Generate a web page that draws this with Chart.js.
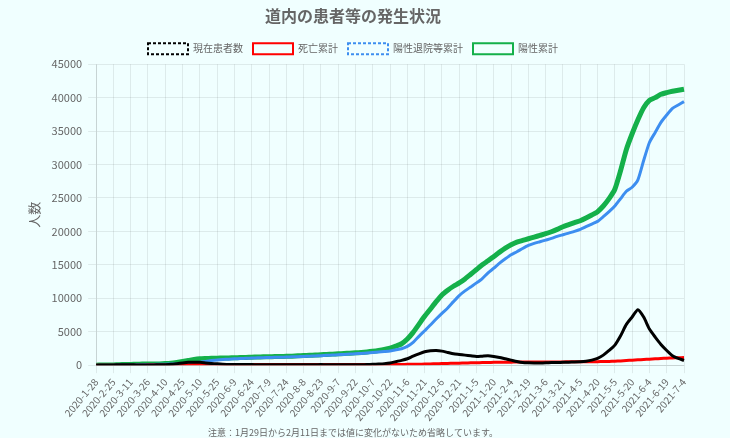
<!DOCTYPE html>
<html>
<head>
<meta charset="utf-8">
<script src="https://cdn.jsdelivr.net/npm/chart.js@4"></script>
<style>
  body { margin: 0; background: #f0ffff; }
  #wrap { width: 730px; height: 438px; }
</style>
</head>
<body>
<div id="wrap"><canvas id="c"></canvas></div>
<script>
// 横軸に表示する日付（15日ごと）。間の点は5日刻み
var tickLabels = ['2020-1-28', '2020-2-25', '2020-3-11', '2020-3-26', '2020-4-10', '2020-4-25',
  '2020-5-10', '2020-5-25', '2020-6-9', '2020-6-24', '2020-7-9', '2020-7-24', '2020-8-8',
  '2020-8-23', '2020-9-7', '2020-9-22', '2020-10-7', '2020-10-22', '2020-11-6', '2020-11-21',
  '2020-12-6', '2020-12-21', '2021-1-5', '2021-1-20', '2021-2-4', '2021-2-19', '2021-3-6',
  '2021-3-21', '2021-4-5', '2021-4-20', '2021-5-5', '2021-5-20', '2021-6-4', '2021-6-19', '2021-7-4'];

var current = [1, 15, 25, 35, 50, 55, 60, 40, 30, 30, 40, 50,
  70, 120, 220, 330, 420, 450, 420, 340, 260, 200, 150, 110, 100, 90, 90, 80, 70, 60,
  50, 50, 50, 50, 50, 60, 70, 70, 70, 80, 70, 70, 60, 60, 60, 60, 60, 80, 120, 170,
  230, 330, 520, 720, 960, 1350, 1700, 2000, 2150, 2200, 2100, 1900, 1700, 1600, 1500, 1400,
  1300, 1350, 1400, 1300, 1150, 950, 750, 550, 400, 350, 330, 330, 350, 380, 400, 420,
  450, 480, 520, 600, 750, 1000, 1500, 2200, 3000, 4400, 6100, 7200, 8300, 7200, 5400, 4200,
  3100, 2200, 1400, 1000, 700];

var deaths = [0, 0, 0, 0, 1, 2, 2, 3, 4, 5, 6, 7,
  9, 12, 20, 40, 60, 80, 90, 95, 100, 100, 101, 102, 102, 102, 103, 103, 103, 103,
  104, 104, 104, 105, 105, 105, 106, 106, 106, 107, 107, 107, 108, 108, 108, 108, 109, 109, 109, 110,
  110, 111, 112, 114, 120, 135, 145, 160, 180, 205, 230, 255, 280, 300, 325, 350,
  370, 385, 405, 420, 430, 440, 450, 457, 463, 470, 474, 477, 480, 484, 487, 490,
  494, 497, 500, 506, 512, 520, 540, 565, 600, 640, 690, 750, 800, 850, 900, 950,
  1000, 1040, 1080, 1110, 1140];

var recovered = [0, 0, 0, 1, 10, 20, 30, 50, 70, 90, 110, 130,
  150, 170, 190, 210, 260, 350, 450, 560, 680, 780, 850, 900, 940, 980, 1020, 1060, 1090, 1120,
  1150, 1170, 1190, 1210, 1240, 1270, 1300, 1340, 1380, 1420, 1470, 1510, 1560, 1610, 1660, 1710, 1760, 1820, 1880, 1950,
  2030, 2120, 2300, 2450, 2800, 3400, 4300, 5150, 6000, 6900, 7750, 8550, 9500, 10400, 11100, 11700,
  12300, 12950, 13800, 14500, 15250, 15900, 16500, 16950, 17450, 17900, 18200, 18450, 18700, 18950, 19250, 19500,
  19750, 20000, 20300, 20700, 21100, 21500, 22200, 22950, 23800, 24900, 26000, 26600, 27700, 30600, 33300, 34800,
  36300, 37400, 38400, 38900, 39400];

var positive = [1, 15, 30, 40, 70, 90, 110, 140, 155, 165, 180, 190,
  230, 300, 420, 560, 700, 850, 950, 990, 1020, 1050, 1070, 1080, 1100, 1130, 1160, 1190, 1220, 1240,
  1260, 1280, 1300, 1320, 1350, 1390, 1430, 1470, 1510, 1560, 1600, 1650, 1690, 1740, 1790, 1840, 1900, 1980, 2080, 2200,
  2350, 2550, 2850, 3200, 3900, 4900, 6100, 7300, 8400, 9500, 10500, 11200, 11800, 12300, 12900, 13600,
  14300, 15000, 15600, 16250, 16900, 17500, 18000, 18400, 18650, 18900, 19150, 19400, 19650, 19950, 20300, 20700,
  21000, 21300, 21600, 22000, 22450, 22950, 23800, 24900, 26300, 29100, 32250, 34600, 36700, 38500, 39600, 40000,
  40500, 40750, 40950, 41100, 41250];

// 表示ラベルの間に空ラベルを2つずつ入れる
var labels = tickLabels.flatMap(function(l, k) {
  return k < tickLabels.length - 1 ? [l, '', ''] : [l];
});

// 凡例だけ点線にする系列
var legendDash = [[3, 2], null, [3, 2], null];

Chart.defaults.font.family = "'Noto Sans CJK JP', 'Noto Sans', sans-serif";
Chart.defaults.color = '#666';

var ctx = document.getElementById('c').getContext('2d');
var chart = new Chart(ctx, {
  type: 'line',
  data: {
    labels: labels,
    datasets: [{
      label: '現在患者数',
      data: current,
      borderColor: '#000000',
      backgroundColor: 'rgba(255,255,255,0)',
      borderWidth: 3
    }, {
      label: '死亡累計',
      data: deaths,
      borderColor: '#ff0000',
      backgroundColor: 'rgba(255,255,255,0)',
      borderWidth: 3
    }, {
      label: '陽性退院等累計',
      data: recovered,
      borderColor: '#3d8ef0',
      backgroundColor: 'rgba(255,255,255,0)',
      borderWidth: 3
    }, {
      label: '陽性累計',
      data: positive,
      borderColor: '#14b04a',
      backgroundColor: 'rgba(255,255,255,0)',
      borderWidth: 5
    }]
  },
  options: {
    responsive: true,
    maintainAspectRatio: false,
    animation: false,
    layout: { padding: { left: 22, right: 46, top: 2, bottom: 0 } },
    elements: { point: { radius: 0 }, line: { tension: 0.2 } },
    plugins: {
      title: {
        display: true,
        text: '道内の患者等の発生状況',
        font: { size: 16, weight: 'bold' },
        color: '#666',
        padding: { top: 4, bottom: 8 }
      },
      legend: {
        labels: {
          boxWidth: 40,
          boxHeight: 11,
          font: { size: 10 },
          generateLabels: function(chart) {
            var items = Chart.defaults.plugins.legend.labels.generateLabels(chart);
            items.forEach(function(it, i) {
              it.lineWidth = 2;
              if (legendDash[i]) it.lineDash = legendDash[i];
            });
            return items;
          }
        }
      },
      subtitle: {
        display: true,
        position: 'bottom',
        text: '注意：1月29日から2月11日までは値に変化がないため省略しています。',
        font: { size: 9 },
        color: '#666',
        padding: { top: 1, bottom: 0 }
      },
      tooltip: { enabled: false }
    },
    scales: {
      x: {
        grid: {
          color: function(c) {
            return c.tick && c.tick.label !== '' ? 'rgba(0,0,0,0.08)' : 'rgba(0,0,0,0)';
          }
        },
        ticks: {
          autoSkip: false,
          maxRotation: 50,
          minRotation: 50,
          font: { size: 10 }
        }
      },
      y: {
        min: 0,
        max: 45000,
        grid: { color: 'rgba(0,0,0,0.08)' },
        ticks: {
          stepSize: 5000,
          padding: 6,
          font: { size: 11 },
          callback: function(v) { return String(v); }
        },
        title: { display: true, text: '人数', font: { size: 13 } }
      }
    }
  }
});
</script>
</body>
</html>
